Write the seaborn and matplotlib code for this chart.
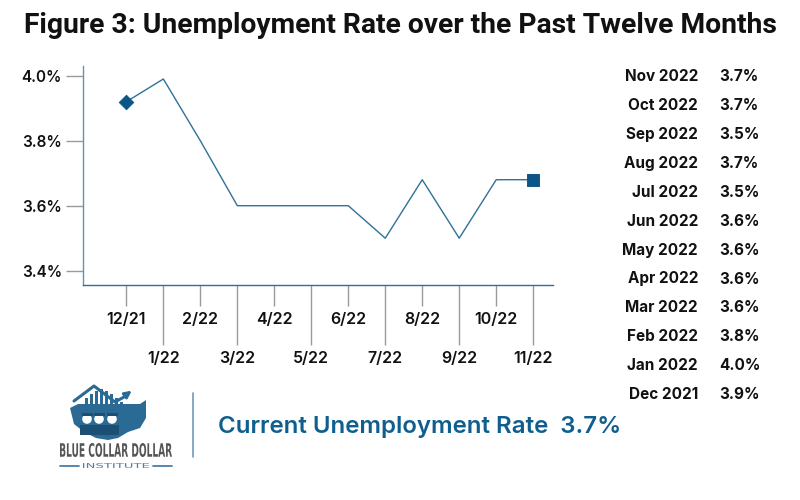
import pandas as pd
import seaborn as sns
import matplotlib.pyplot as plt
from matplotlib.lines import Line2D
from matplotlib.patches import Rectangle, PathPatch, Polygon
from matplotlib.textpath import TextPath
from matplotlib.font_manager import FontProperties
from matplotlib.transforms import Affine2D

sns.set_theme(style="white")
plt.rcParams["font.family"] = ["Inter", "DejaVu Sans"]

# chart data
months = ["12/21", "1/22", "2/22", "3/22", "4/22", "5/22", "6/22",
          "7/22", "8/22", "9/22", "10/22", "11/22"]
rates = [3.92, 3.99, 3.80, 3.60, 3.60, 3.60, 3.60, 3.50, 3.68, 3.50, 3.68, 3.68]

# side table
table_labels = ["Nov 2022", "Oct 2022", "Sep 2022", "Aug 2022", "Jul 2022", "Jun 2022",
                "May 2022", "Apr 2022", "Mar 2022", "Feb 2022", "Jan 2022", "Dec 2021"]
table_values = ["3.7%", "3.7%", "3.5%", "3.7%", "3.5%", "3.6%",
                "3.6%", "3.6%", "3.6%", "3.8%", "4.0%", "3.9%"]

current_rate = "3.7%"

LINE = "#2f7199"
DARK = "#0b5587"
TEXT_BLUE = "#0e5f8f"
LOGO = "#2c6a96"

df = pd.DataFrame({"pos": range(len(months)), "month": months, "rate": rates})

fig = plt.figure(figsize=(8, 5), dpi=100)
ax = fig.add_axes([0.1034, 0.4294, 0.5876, 0.4386])

sns.lineplot(data=df, x="pos", y="rate", color=LINE, linewidth=1.0, ax=ax)
sns.scatterplot(data=df.iloc[[0]], x="pos", y="rate", marker="D", s=55,
                color=DARK, edgecolor=DARK, ax=ax, zorder=5)
sns.scatterplot(data=df.iloc[[-1]], x="pos", y="rate", marker="s", s=70,
                color=DARK, edgecolor=DARK, ax=ax, zorder=5)

ax.set_xlim(-1.18, 11.53)
ax.set_ylim(3.355, 4.03)
ax.set_xlabel("")
ax.set_ylabel("")

# y axis
yticks = [3.4, 3.6, 3.8, 4.0]
ax.set_yticks(yticks)
ax.set_yticklabels([f"{v:.1f}%" for v in yticks], fontsize=11, fontweight="semibold",
                   color="#111111")
ax.tick_params(axis="y", length=12, width=1, color="#9a9a9a", pad=3, left=True)

# x axis: alternating short / long ticks
even = list(range(0, len(months), 2))
odd = list(range(1, len(months), 2))
ax.set_xticks(even)
ax.set_xticklabels([months[i] for i in even], fontsize=11.5, fontweight="semibold",
                   color="#111111")
ax.set_xticks(odd, minor=True)
ax.set_xticklabels([months[i] for i in odd], minor=True, fontsize=11.5,
                   fontweight="semibold", color="#111111")
ax.tick_params(axis="x", which="major", length=15, width=1, color="#9a9a9a",
               pad=4, bottom=True)
ax.tick_params(axis="x", which="minor", length=43, width=1, color="#9a9a9a",
               pad=4, bottom=True)

for side in ["top", "right"]:
    ax.spines[side].set_visible(False)
ax.spines["left"].set_color("#5f94b8")
ax.spines["bottom"].set_color("#2f6f99")
ax.spines["left"].set_linewidth(1.0)
ax.spines["bottom"].set_linewidth(1.0)
ax.grid(False)

# title
fig.text(0.5, 0.949, "Figure 3: Unemployment Rate over the Past Twelve Months",
         ha="center", va="center", fontsize=20.3, fontweight="bold", color="#111111",
         family=["Roboto", "DejaVu Sans"])

# right-hand table
top_y, step = 76.7, 28.9
for i, (lab, val) in enumerate(zip(table_labels, table_values)):
    y = 1 - (top_y + i * step) / 500
    fig.text(698 / 800, y, lab, ha="right", va="center", fontsize=11,
             fontweight="bold", color="#111111")
    fig.text(719 / 800, y, val, ha="left", va="center", fontsize=11,
             fontweight="bold", color="#111111")

# footer drawn in pixel coordinates
lax = fig.add_axes([0, 0, 1, 1], facecolor="none")
lax.set_xlim(0, 800)
lax.set_ylim(500, 0)
lax.axis("off")


def fit_text(s, x0, x1, y0, y1, color, weight="bold"):
    tp = TextPath((0, 0), s, size=10, prop=FontProperties(family="DejaVu Sans",
                                                          weight=weight))
    ext = tp.get_extents()
    sx = (x1 - x0) / ext.width
    sy = (y1 - y0) / ext.height
    tr = (Affine2D().translate(-ext.x0, -ext.y0).scale(sx, -sy)
          .translate(x0, y1))
    lax.add_patch(PathPatch(tr.transform_path(tp), color=color, lw=0))


# logo: map silhouette with bars, workers and a roof arrow
lax.add_patch(Polygon([(70, 408), (78, 404), (140, 404), (146, 400), (146, 418),
                       (140, 428), (128, 432), (118, 438), (108, 440), (96, 438),
                       (84, 432), (74, 424)], closed=True, color=LOGO, lw=0))
bar_x = [80, 85, 90, 95, 100, 105, 110, 115, 120, 125, 130, 135]
bar_top = [404, 398, 394, 391, 389, 391, 394, 398, 402, 404, 404, 404]
for bx, bt in zip(bar_x, bar_top):
    lax.add_patch(Rectangle((bx, bt), 3.2, 412 - bt, color=LOGO, lw=0))
for cx in [87, 99, 112]:
    lax.add_patch(plt.Circle((cx, 419), 4.8, color="white", lw=0))
    lax.add_patch(Rectangle((cx - 5.5, 412.5), 11, 3.5, color="#1d4f75", lw=0))
    lax.add_patch(Rectangle((cx - 7, 425), 14, 10, color="#1d4f75", lw=0))
lax.add_line(Line2D([74, 94, 115, 124], [401, 386, 402, 397], color=LOGO,
                    linewidth=2.2, solid_capstyle="round"))
lax.annotate("", xy=(134, 389), xytext=(122, 398),
             arrowprops=dict(arrowstyle="-|>", color=LOGO, lw=2,
                             mutation_scale=10))
fit_text("BLUE COLLAR DOLLAR", 60, 172, 443, 457, "#555555")
fit_text("INSTITUTE", 83, 149, 463, 468, "#4a7ea6", weight="normal")
lax.add_line(Line2D([60, 79], [465.5, 465.5], color="#4a7ea6", linewidth=1.3))
lax.add_line(Line2D([153, 172], [465.5, 465.5], color="#4a7ea6", linewidth=1.3))

# separator and current rate
lax.add_line(Line2D([193, 193], [393, 457], color="#6f9bbb", linewidth=1.2))
lax.text(218, 427, f"Current Unemployment Rate  {current_rate}", ha="left",
         va="center", fontsize=17.3, fontweight="semibold", color=TEXT_BLUE)

fig.savefig("out.png", dpi=100)
